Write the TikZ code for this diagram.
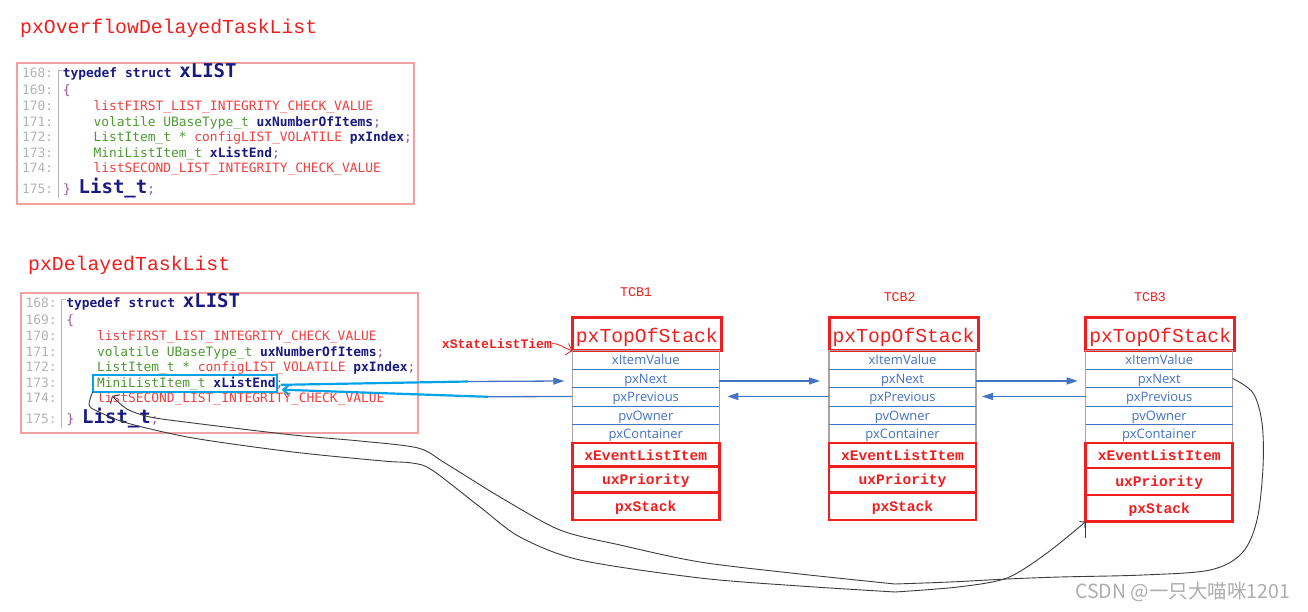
\documentclass[tikz,border=0pt]{standalone}
\usepackage{fontspec}
\usetikzlibrary{arrows.meta,calc}
\newfontfamily\titlefont{Liberation Mono}
\newfontfamily\codefont{DejaVu Sans Mono}
\newfontfamily\cellfont{Open Sans}
\newfontfamily\cjkfont{Noto Sans CJK SC}
\definecolor{navy}{HTML}{1A1A80}
\definecolor{cgreen}{HTML}{4E9A32}
\definecolor{cred}{HTML}{F04040}
\definecolor{cpurple}{HTML}{A050A0}
\definecolor{lngray}{HTML}{B4B4B4}
\definecolor{boxpink}{HTML}{F5A0A0}
\definecolor{tred}{HTML}{F01E1E}
\definecolor{tblue}{HTML}{4472C4}
\definecolor{tgray}{HTML}{A6A6A6}
\definecolor{lcyan}{HTML}{00A2E8}
\definecolor{curvecol}{HTML}{3C3C3C}
\definecolor{wm}{HTML}{ADADAD}
\tikzset{
  titletext/.style={text=tred,font=\titlefont\fontsize{19.8}{20}\selectfont,anchor=base west,inner sep=0pt},
  codebox/.style={draw=boxpink,line width=2pt,anchor=north west,minimum width=397pt,minimum height=140.5pt,inner sep=0pt,outer sep=0pt},
  foldline/.style={draw=lngray,line width=0.6pt},
  lnum/.style={text=lngray,font=\codefont\fontsize{12.9}{14}\selectfont,anchor=base west,inner sep=0pt},
  codeline/.style={font=\codefont\fontsize{12.9}{14}\selectfont,anchor=base west,inner sep=0pt},
  tcblabel/.style={text=tred,font=\titlefont\fontsize{13.3}{14}\selectfont,anchor=base,inner sep=0pt},
  topbox/.style={draw=tred,line width=3pt,anchor=north west,minimum width=149pt,minimum height=33pt,inner sep=0pt,outer sep=0pt,
     text=tred,font=\titlefont\fontsize{19.7}{20}\selectfont,text height=17pt,text depth=0pt},
  cell/.style={anchor=north west,minimum width=147pt,minimum height=18.5pt,inner sep=0pt,outer sep=0pt,
     text=tblue,font=\cellfont\fontsize{13}{14}\selectfont,text height=10pt,text depth=0pt},
  redcell/.style={draw=tred,line width=2.5pt,anchor=north west,minimum width=147pt,inner sep=0pt,outer sep=0pt,
     text=tred,font=\titlefont\bfseries\fontsize{14.6}{15}\selectfont,text height=10.5pt,text depth=0pt},
  barrow/.style={draw=tblue,line width=1.3pt,-{Triangle[length=11pt,width=7pt]}},
  bline/.style={draw=tblue,line width=1.3pt},
  cyanline/.style={draw=lcyan,line width=2.2pt},
  curveline/.style={draw=curvecol,line width=0.9pt},
}
\newcommand\CodeBlock[3]{%
  \node[codebox] (#1box) at ({#2+17.3},{#3+63.3}) {};
  \draw[foldline] ({#2+58},{#3+198}) -- ({#2+58},{#3+70}) -- ({#2+62},{#3+70});
  \foreach \lnno/\yy in {168/78,169/95,170/111,171/127,172/142,173/158,174/173,175/194}
    \node[lnum] (#1n\lnno) at ({#2+22},{#3+\yy}) {\lnno:};
  \node[codeline] (#1a) at ({#2+62.7},{#3+78}) {\color{navy}\bfseries typedef struct {\fontsize{19}{20}\selectfont xLIST}};
  \node[codeline] (#1b) at ({#2+62.7},{#3+95}) {\color{cpurple}\{};
  \node[codeline] (#1c) at ({#2+93.3},{#3+111}) {\color{cred}listFIRST\_LIST\_INTEGRITY\_CHECK\_VALUE};
  \node[codeline] (#1d) at ({#2+93.3},{#3+127}) {\color{cgreen}volatile UBaseType\_t \textcolor{navy}{\bfseries uxNumberOfItems}\textcolor{cpurple}{;}};
  \node[codeline] (#1e) at ({#2+93.3},{#3+142}) {\color{cgreen}ListItem\_t * \textcolor{cred}{configLIST\_VOLATILE} \textcolor{navy}{\bfseries pxIndex}\textcolor{cpurple}{;}};
  \node[codeline] (#1f) at ({#2+93.3},{#3+158}) {\color{cgreen}MiniListItem\_t \textcolor{navy}{\bfseries xListEnd}\textcolor{cpurple}{;}};
  \node[codeline] (#1g) at ({#2+93.3},{#3+173}) {\color{cred}listSECOND\_LIST\_INTEGRITY\_CHECK\_VALUE};
  \node[codeline] (#1h) at ({#2+63},{#3+194}) {\textcolor{cpurple}{\}} {\color{navy}\bfseries\fontsize{19}{20}\selectfont List\_t}\textcolor{cpurple}{;}};
}
% #1 prefix #2 label #3 x #4 label cx #5 label baseline #6 #7 #8 red heights
\newcommand\TCB[8]{%
  \node[tcblabel] (#1lab) at (#4,#5) {#2};
  \node[topbox] (#1top) at (#3,317.7) {pxTopOfStack};
  \node[cell] (#1iv) at (#3,350.7) {xItemValue};
  \node[cell] (#1nx) at (#3,369.2) {pxNext};
  \node[cell] (#1pv) at (#3,387.7) {pxPrevious};
  \node[cell] (#1ow) at (#3,406.2) {pvOwner};
  \node[cell] (#1pc) at (#3,424.7) {pxContainer};
  \draw[tgray,line width=1.2pt] (#1iv.north west) rectangle (#1pc.south east);
  \foreach \cc in {iv,nx,pv,ow}
    \draw[tblue,line width=1.2pt] (#1\cc.south west) -- (#1\cc.south east);
  \node[redcell,minimum height=#6] (#1ev) at (#1pc.south west) {xEventListItem};
  \node[redcell,minimum height=#7,text height=9pt] (#1pr) at (#1ev.south west) {uxPriority\hspace{20pt}};
  \node[redcell,minimum height=#8,text height=10pt] (#1ps) at (#1pr.south west) {pxStack\hspace{17pt}};
}
\begin{document}
\begin{tikzpicture}[x=1pt,y=-1pt]
\fill[white] (0,0) rectangle (1308,612);
\useasboundingbox (0,0) rectangle (1308,612);

\node[titletext] (title1) at (20,33.3) {pxOverflowDelayedTaskList};
\node[titletext] (title2) at (28,270) {pxDelayedTaskList};

\CodeBlock{b1}{0}{0}
\CodeBlock{b2}{3.5}{229.5}

\node[draw=lcyan,line width=2pt,anchor=north west,minimum width=184pt,minimum height=16.7pt,inner sep=0pt,outer sep=0pt] (xle) at (92.7,375) {};

\TCB{t1}{TCB1}{572.3}{636}{296.7}{23.5pt}{26pt}{27.3pt}
\TCB{t2}{TCB2}{829}{899.7}{301.7}{23.5pt}{26pt}{27.3pt}
\TCB{t3}{TCB3}{1085.7}{1150}{301.7}{25pt}{26.7pt}{26.7pt}

% xStateListTiem
\node[anchor=base west,inner sep=0pt,text=tred,font=\titlefont\bfseries\fontsize{13.1}{14}\selectfont] (xsl) at (441.7,348.3) {xStateListTiem};
\draw[tred,line width=0.8pt,-{Straight Barb[length=5pt,width=12pt]}] (xsl.east) to[out=0,in=165] (t1top.south west);

% list -> TCB1 and back
\coordinate (c1) at (468,381.5);
\coordinate (c2) at (488,396.8);
\draw[cyanline] ([xshift=4pt,yshift=-1.5pt]xle.east) -- (c1);
\draw[barrow,shorten >=8pt] (c1) -- ([yshift=-2.5pt]t1nx.west);
\draw[bline] ([yshift=0.5pt]t1pv.west) -- (c2);
\draw[cyanline,-{Straight Barb[length=5pt,width=9pt]}] (c2) -- ([xshift=5pt,yshift=2pt]xle.south east);

% TCB chains
\draw[barrow,shorten >=9pt] ([yshift=-2.5pt]t1nx.east) -- ([yshift=-2.5pt]t2nx.west);
\draw[barrow,shorten >=8pt] ([yshift=0.5pt]t2pv.west) -- ([yshift=0.5pt]t1pv.east);
\draw[barrow,shorten >=8pt] ([yshift=-2.5pt]t2nx.east) -- ([yshift=-2.5pt]t3nx.west);
\draw[barrow,shorten >=6pt] ([yshift=0.5pt]t3pv.west) -- ([yshift=0.5pt]t2pv.east);

% black curves
\coordinate (kinkU) at (895,584);
\coordinate (kinkL) at (895,592);
\coordinate (uend) at (112,396);
\draw[curveline] plot[smooth,tension=0.55] coordinates {(t3nx.east) (1253,393) (1262,423) (1263,467) (1257,520) (1242,553) (1210,570) (1143,575) (1060,577) (1007,579) (950,582) (kinkU)};
\draw[curveline,-{Straight Barb[length=4pt,width=13pt]}] plot[smooth,tension=0.5] coordinates {(kinkU) (800,574) (700,562) (620,545) (560,530) (500,497) (445,463) (418,448) (360,441) (293,435) (193,423) (150,417) (127,409) (uend)};
\draw[curveline] plot[smooth,tension=0.5] coordinates {(xle.south west) (89,405) (97,411) (127,423) (193,438) (293,452) (383,461) (412,463) (432,470) (480,507) (520,537) (580,560) (700,578) (800,586) (kinkL)};
\draw[curveline,-{Straight Barb[length=4pt,width=8pt]}] plot[smooth,tension=0.5] coordinates {(kinkL) (958,587) (1007,578) (1047,553) (t3ps.south west)};
\draw[curveline] (t3ps.south west) -- ++(0,16);

% watermark
\node[anchor=base west,inner sep=0pt,text=wm,font=\cjkfont\fontsize{19.5}{20}\selectfont] (wmk) at (1075,598) {CSDN @一只大喵咪1201};
\end{tikzpicture}
\end{document}
